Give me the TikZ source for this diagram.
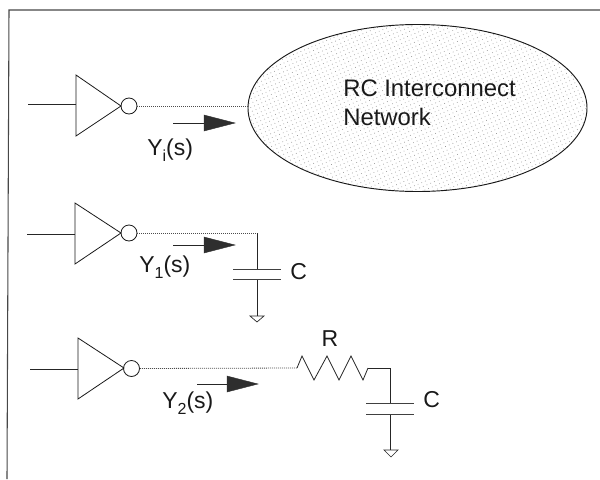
\documentclass[tikz,border=0pt]{standalone}
\usepackage{fontspec}
\setmainfont{Liberation Sans}
\usetikzlibrary{shapes.geometric,patterns.meta}
\newcommand{\lowsub}[1]{\raisebox{-4.6pt}{\fontsize{12}{14}\selectfont #1}}
\tikzset{
  wire/.style={line width=0.6pt,black!85},
  owire/.style={line width=0.6pt,black!70,dash pattern=on 0.75pt off 0.75pt},
  gate/.style={line width=0.6pt,black!90,line join=miter},
  bubble/.style={circle,draw=black!90,line width=0.6pt,minimum size=12pt,inner sep=0pt},
  head/.style={fill=black!82,draw=black!82,line width=0.3pt},
  lbl/.style={font=\fontsize{17.25}{21}\selectfont,text=black!90,inner sep=0pt},
  bigl/.style={font=\fontsize{17.9}{21}\selectfont,text=black!90,inner sep=0pt},
  gnd/.style={line width=0.5pt,black!85},
  plate/.style={line width=0.7pt,black!75},
  cloud/.style={ellipse,draw=black!90,line width=0.7pt,minimum width=254.25pt,minimum height=125.25pt,inner sep=0pt,
    preaction={pattern={Dots[radius=0.36pt,distance=3pt,angle=23]},pattern color=black!42}}
}
\begin{document}
\begin{tikzpicture}[x=0.75pt,y=-0.75pt]
\useasboundingbox (0,0) rectangle (600,479);
% frame
\coordinate (ftr) at (600,10);
\coordinate (ftl) at (9,10);
\coordinate (fbl) at (7,479);
\draw[line width=0.8pt,black!72] (ftr) -- (ftl) -- (fbl);

% first stage
\coordinate (i1) at (28,104);
\coordinate (t1a) at (76,75); \coordinate (t1b) at (76,136); \coordinate (t1c) at (121,106);
\coordinate (t1in) at (76,104);
\draw[gate] (t1a) -- (t1b) -- (t1c) -- cycle;
\node[bubble] (b1) at (129,106) {};
\draw[wire] (i1) -- (t1in);
\node[cloud] (net) at (417.5,108) {};
\draw[owire] (b1.east) -- (net.west |- b1.east);
\node[bigl,anchor=base west] (nettxt1) at (343,96) {RC Interconnect};
\node[bigl,anchor=base west] (nettxt2) at (343,125) {Network};
\coordinate (a1s) at (173,123); \coordinate (a1h) at (204,123);
\draw[wire] (a1s) -- (a1h);
\fill[head] (204,115) -- (235,123) -- (204,131) -- cycle;
\node[lbl,anchor=base west] (y1) at (147,155) {Y\lowsub{i}(s)};

% second stage
\coordinate (i2) at (27,234);
\coordinate (t2a) at (75,203); \coordinate (t2b) at (75,264); \coordinate (t2c) at (121,233);
\coordinate (t2in) at (75,234);
\draw[gate] (t2a) -- (t2b) -- (t2c) -- cycle;
\node[bubble] (b2) at (129,233) {};
\draw[wire] (i2) -- (t2in);
\coordinate (c2j) at (257,233);
\coordinate (c2t) at (257,269); \coordinate (c2b) at (257,279); \coordinate (g2) at (257,316);
\draw[owire] (b2.east) -- (c2j);
\draw[wire] (c2j) -- (c2t) (c2b) -- (g2);
\draw[plate] (233,269) -- (281,269) (233,279) -- (281,279);
\draw[gnd,line join=miter] (250,316) -- (264,316) -- (257,322) -- cycle;
\coordinate (a2s) at (173,245); \coordinate (a2h) at (204,245);
\draw[wire] (a2s) -- (a2h);
\fill[head] (204,237) -- (235,245) -- (204,253) -- cycle;
\node[lbl,anchor=base west] (y2) at (139,272) {Y\lowsub{1}(s)};
\node[lbl,anchor=base west] (c1) at (290,279) {C};

% third stage
\coordinate (i3) at (30,369);
\coordinate (t3a) at (78,338); \coordinate (t3b) at (78,399); \coordinate (t3c) at (124,368);
\coordinate (t3in) at (78,369);
\draw[gate] (t3a) -- (t3b) -- (t3c) -- cycle;
\node[bubble] (b3) at (131.5,368.5) {};
\draw[wire] (i3) -- (t3in);
\coordinate (r1) at (297,368); \coordinate (r2) at (368,368);
\draw[owire] (b3.east) -- (r1);
\draw[wire,line join=miter] (r1) -- (302,356) -- (314,380) -- (327,356) -- (339,380) -- (351,356) -- (363,380) -- (r2);
\coordinate (c3j) at (390.5,368);
\coordinate (c3t) at (390.5,403); \coordinate (c3b) at (390.5,414); \coordinate (g3) at (390.5,450);
\draw[wire] (r2) -- (c3j) -- (c3t) (c3b) -- (g3);
\draw[plate] (366,403.5) -- (414,403.5) (366,414) -- (414,414);
\draw[gnd,line join=miter] (384,450) -- (398,450) -- (391,457) -- cycle;
\coordinate (a3s) at (197,384); \coordinate (a3h) at (227,384);
\draw[wire] (a3s) -- (a3h);
\fill[head] (227,376) -- (258,384) -- (227,392) -- cycle;
\node[lbl,anchor=base west] (y3) at (162,408) {Y\lowsub{2}(s)};
\node[lbl,anchor=base] (rl) at (330,346) {R};
\node[lbl,anchor=base west] (c2) at (423,407) {C};
\end{tikzpicture}
\end{document}
